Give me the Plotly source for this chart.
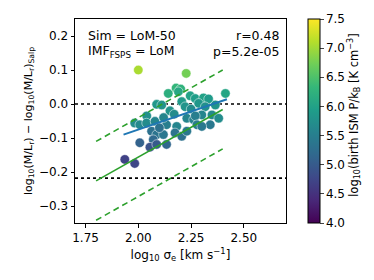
import plotly.graph_objects as go

# scatter data: log10 sigma_e, delta log M/L, log10 birth ISM pressure
sigma = [2.000, 2.227, 2.142, 2.179, 2.201, 2.190, 2.246, 2.270, 2.309, 2.333, 2.413,
         2.087, 2.111, 2.206, 2.222, 2.286, 2.317, 2.365, 2.150, 2.170, 2.250, 2.040,
         1.983, 2.007, 2.039, 2.079, 2.134, 2.182, 2.230, 2.262, 2.301, 2.349, 2.381,
         2.120, 2.270, 2.341, 2.063, 2.087, 2.119, 2.100, 2.071, 2.174, 2.206, 2.230,
         2.278, 2.301, 2.007, 2.055, 2.087, 2.134, 1.936, 1.983]
dml = [0.100, 0.090, 0.031, 0.047, 0.044, 0.036, 0.024, 0.016, 0.018, 0.015, 0.031,
       -0.001, -0.003, 0.007, -0.008, 0.002, -0.008, -0.003, -0.020, -0.030, -0.015, -0.035,
       -0.056, -0.061, -0.056, -0.051, -0.061, -0.066, -0.042, -0.046, -0.032, -0.032, -0.042,
       -0.040, -0.035, -0.061, -0.080, -0.090, -0.090, -0.070, -0.105, -0.085, -0.095, -0.080,
       -0.061, -0.066, -0.114, -0.127, -0.119, -0.119, -0.163, -0.175]
pressure = [7.05, 6.75, 6.20, 6.30, 6.25, 6.10, 6.00, 5.95, 6.00, 5.90, 6.05,
            5.85, 5.80, 5.90, 5.80, 5.85, 5.75, 5.80, 5.80, 5.70, 5.70, 5.75,
            5.70, 5.65, 5.70, 5.60, 5.50, 5.60, 5.60, 5.55, 5.60, 5.65, 5.70,
            5.60, 5.50, 5.40, 5.30, 5.35, 5.40, 5.30, 5.20, 5.35, 5.30, 5.40,
            5.45, 5.40, 5.10, 4.90, 5.00, 5.15, 4.70, 4.75]

# relations
ref_x = [1.8, 2.4]
ref_y = [-0.226, -0.016]
ref_scatter = 0.116
fit_x = [1.93, 2.42]
fit_y = [-0.090, 0.014]
hlines = [0.0, -0.218]
x_range = [1.7, 2.7]
y_range = [-0.35, 0.25]

FONT = "DejaVu Sans"
green = "#2ca02c"
blue = "#1f77b4"

fig = go.Figure()

for h in hlines:
    fig.add_trace(go.Scatter(x=x_range, y=[h, h], mode="lines",
                             line=dict(color="black", width=1.6, dash="dot"),
                             showlegend=False, hoverinfo="skip"))

fig.add_trace(go.Scatter(
    x=sigma, y=dml, mode="markers",
    marker=dict(size=9.5, color=pressure, colorscale="Viridis", cmin=4.0, cmax=7.5,
                line=dict(color="white", width=0.5),
                colorbar=dict(
                    x=1.057, xanchor="left", xref="paper",
                    y=0.5, yanchor="middle", len=1.0, lenmode="fraction", ypad=0,
                    thickness=12, outlinewidth=1, outlinecolor="black",
                    ticks="outside", ticklen=3.5, tickwidth=1,
                    tickvals=[4.0, 4.5, 5.0, 5.5, 6.0, 6.5, 7.0, 7.5],
                    ticktext=["4.0", "4.5", "5.0", "5.5", "6.0", "6.5", "7.0", "7.5"],
                    tickfont=dict(family=FONT, size=12, color="black"),
                )),
    showlegend=False))

fig.add_trace(go.Scatter(x=ref_x, y=ref_y, mode="lines",
                         line=dict(color=green, width=1.6), showlegend=False))
fig.add_trace(go.Scatter(x=ref_x, y=[v + ref_scatter for v in ref_y], mode="lines",
                         line=dict(color=green, width=1.6, dash="6px,4px"), showlegend=False))
fig.add_trace(go.Scatter(x=ref_x, y=[v - ref_scatter for v in ref_y], mode="lines",
                         line=dict(color=green, width=1.6, dash="6px,4px"), showlegend=False))
fig.add_trace(go.Scatter(x=fit_x, y=fit_y, mode="lines",
                         line=dict(color=blue, width=2), showlegend=False))

axis_common = dict(showline=True, linecolor="black", linewidth=1, mirror=True,
                   showgrid=False, zeroline=False, ticks="outside", ticklen=3.5,
                   tickwidth=1, tickcolor="black", automargin=False,
                   tickfont=dict(family=FONT, size=12, color="black"))

fig.update_xaxes(range=x_range, tickvals=[1.75, 2.0, 2.25, 2.5],
                 ticktext=["1.75", "2.00", "2.25", "2.50"],
                 title=dict(text="log<sub>10</sub> σ<sub>e</sub> [km s<sup>−1</sup>]",
                            font=dict(family=FONT, size=12, color="black"), standoff=6),
                 **axis_common)
fig.update_yaxes(range=y_range, tickvals=[-0.3, -0.2, -0.1, 0.0, 0.1, 0.2],
                 ticktext=["−0.3", "−0.2", "−0.1", "0.0", "0.1", "0.2"],
                 title=dict(text="log<sub>10</sub>(M/L<sub>r</sub>) − log<sub>10</sub>(M/L<sub>r</sub>)<sub>Salp</sub>",
                            font=dict(family=FONT, size=11, color="black"), standoff=4),
                 **axis_common)

ann_font = dict(family=FONT, size=12.5, color="black")
fig.add_annotation(x=0.05, y=0.92, xref="paper", yref="paper", xanchor="left",
                   yanchor="middle", text="Sim = LoM-50", showarrow=False, font=ann_font)
fig.add_annotation(x=0.05, y=0.84, xref="paper", yref="paper", xanchor="left",
                   yanchor="middle", text="IMF<sub>FSPS</sub> = LoM", showarrow=False, font=ann_font)
fig.add_annotation(x=0.975, y=0.92, xref="paper", yref="paper", xanchor="right",
                   yanchor="middle", text="r=0.48", showarrow=False, font=ann_font)
fig.add_annotation(x=0.975, y=0.84, xref="paper", yref="paper", xanchor="right",
                   yanchor="middle", text="p=5.2e-05", showarrow=False, font=ann_font)
# colorbar title
fig.add_annotation(x=1.322, y=0.53, xref="paper", yref="paper", xanchor="center",
                   yanchor="middle", textangle=-90, showarrow=False,
                   text="log<sub>10</sub>(birth ISM P/k<sub>B</sub> [K cm<sup>−3</sup>]",
                   font=dict(family=FONT, size=11.5, color="black"))

# page body adds an 8px offset, so the figure is sized to fit the window
fig.update_layout(width=366, height=272,
                  margin=dict(l=67, r=88, t=11, b=57, autoexpand=False),
                  plot_bgcolor="white", paper_bgcolor="white",
                  font=dict(family=FONT, size=12, color="black"))

fig.write_html("out.html")
